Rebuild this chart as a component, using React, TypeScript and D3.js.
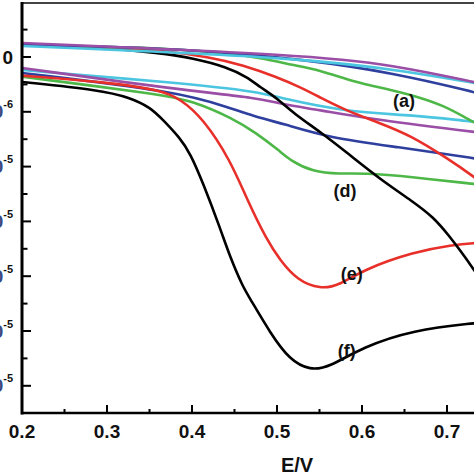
import React from "react";
import * as d3 from "d3";

// Potential E (V) vs current (units of 1e-5 A)
const blackUp: [number, number][] = [[0.2,0.11],[0.292,0.09],[0.362,0.036],[0.401,-0.009],[0.441,-0.091],[0.465,-0.183],[0.48,-0.274],[0.5,-0.374],[0.519,-0.511],[0.551,-0.684],[0.585,-0.89],[0.621,-1.113],[0.66,-1.32],[0.684,-1.46],[0.7035,-1.642],[0.715,-1.76],[0.732,-1.943],[0.75,-2.15]];
const redUp: [number, number][] = [[0.2,0.11],[0.3,0.09],[0.362,0.064],[0.421,0],[0.46,-0.073],[0.5,-0.183],[0.527,-0.274],[0.551,-0.37],[0.58,-0.484],[0.62,-0.6],[0.6565,-0.712],[0.7035,-0.94],[0.732,-1.095],[0.75,-1.2]];
const greenUp: [number, number][] = [[0.2,0.11],[0.3,0.09],[0.362,0.082],[0.441,0.036],[0.48,-0.009],[0.519,-0.073],[0.551,-0.12],[0.582,-0.21],[0.645,-0.32],[0.668,-0.37],[0.695,-0.44],[0.7235,-0.56],[0.732,-0.6],[0.75,-0.66]];
const blueUp: [number, number][] = [[0.2,0.11],[0.386,0.082],[0.539,-0.027],[0.6365,-0.146],[0.732,-0.319],[0.75,-0.36]];
const cyanUp: [number, number][] = [[0.2,0.1],[0.539,-0.009],[0.6565,-0.137],[0.732,-0.237],[0.75,-0.26]];
const purpleUp: [number, number][] = [[0.2,0.128],[0.539,0.018],[0.6365,-0.073],[0.732,-0.228],[0.75,-0.26]];

const blackLow: [number, number][] = [[0.2,-0.228],[0.292,-0.301],[0.327,-0.37],[0.351,-0.46],[0.366,-0.575],[0.386,-0.74],[0.398,-0.88],[0.413,-1.15],[0.433,-1.56],[0.445,-1.83],[0.46,-2.099],[0.468,-2.2],[0.492,-2.518],[0.515,-2.765],[0.539,-2.86],[0.562,-2.828],[0.601,-2.646],[0.66,-2.491],[0.732,-2.427],[0.75,-2.42]];
const redLow: [number, number][] = [[0.2,-0.17],[0.3,-0.23],[0.362,-0.3],[0.386,-0.38],[0.413,-0.56],[0.445,-0.94],[0.465,-1.305],[0.488,-1.67],[0.5035,-1.852],[0.5235,-2.035],[0.551,-2.12],[0.574,-2.08],[0.601,-1.943],[0.66,-1.779],[0.707,-1.715],[0.732,-1.697],[0.75,-1.69]];
const greenLow: [number, number][] = [[0.2,-0.18],[0.362,-0.34],[0.401,-0.40],[0.448,-0.56],[0.475,-0.69],[0.5035,-0.86],[0.515,-0.94],[0.542,-1.049],[0.574,-1.068],[0.601,-1.058],[0.66,-1.095],[0.732,-1.16],[0.75,-1.17]];
const blueLow: [number, number][] = [[0.2,-0.146],[0.386,-0.319],[0.441,-0.456],[0.488,-0.575],[0.5035,-0.6],[0.562,-0.739],[0.641,-0.821],[0.732,-0.922],[0.75,-0.95]];
const purpleLow: [number, number][] = [[0.2,-0.1],[0.386,-0.301],[0.48,-0.374],[0.5035,-0.43],[0.551,-0.484],[0.601,-0.557],[0.732,-0.684],[0.75,-0.7]];
const cyanLow: [number, number][] = [[0.2,-0.119],[0.386,-0.237],[0.48,-0.319],[0.5035,-0.374],[0.582,-0.502],[0.66,-0.529],[0.732,-0.593],[0.75,-0.6]];

const xMajorTicks = [0.2, 0.3, 0.4, 0.5, 0.6, 0.7];
const xMinorTicks = [0.25, 0.35, 0.45, 0.55, 0.65, 0.75];
const yMajorTicks = [0, -0.5, -1.0, -1.5, -2.0, -2.5, -3.0];
const yMinorTicks = [0.25, -0.25, -0.75, -1.25, -1.75, -2.25, -2.75];
const yTickBase = ["0", "-5.0x10", "-1.0x10", "-1.5x10", "-2.0x10", "-2.5x10", "-3.0x10"];
const yTickExp = ["", "-6", "-5", "-5", "-5", "-5", "-5"];

const curveLabels = [
  { text: "(a)", x: 0.6494, y: -0.401 },
  { text: "(d)", x: 0.58, y: -1.223 },
  { text: "(e)", x: 0.588, y: -1.98 },
  { text: "(f)", x: 0.582, y: -2.682 },
];

const series = [
  { data: cyanLow, color: "#4cc5e0" },
  { data: purpleLow, color: "#9a4ea6" },
  { data: blueLow, color: "#2f3f9e" },
  { data: greenLow, color: "#4db748" },
  { data: redLow, color: "#e8302a" },
  { data: blackLow, color: "#000000" },
  { data: blackUp, color: "#000000" },
  { data: redUp, color: "#e8302a" },
  { data: greenUp, color: "#4db748" },
  { data: blueUp, color: "#2f3f9e" },
  { data: cyanUp, color: "#4cc5e0" },
  { data: purpleUp, color: "#9a4ea6" },
];

const FONT = "'Liberation Sans', Arial, sans-serif";

export default function App() {
  const W = 474, H = 474;
  const left = 22, top = 3, bottom = 413;
  const x = d3.scaleLinear().domain([0.2, 0.75]).range([left, left + 0.55 * 850]);
  const y = d3.scaleLinear().domain([0, -3]).range([57, 57 + 3 * 109.6]);
  const line = d3
    .line<[number, number]>()
    .x((d) => x(d[0]))
    .y((d) => y(d[1]))
    .curve(d3.curveBasis);

  return (
    <svg
      width={W}
      height={H}
      style={{ position: "absolute", left: 0, top: 0, background: "#fff" }}
      fontFamily={FONT}
    >
      <rect x={0} y={0} width={W} height={H} fill="#fff" />
      <defs>
        <clipPath id="plot">
          <rect x={left} y={top} width={W} height={bottom - top} />
        </clipPath>
      </defs>
      <g clipPath="url(#plot)">
        {series.map((s, i) => (
          <path key={i} d={line(s.data) || ""} fill="none" stroke={s.color} strokeWidth={2.6} strokeLinejoin="round" />
        ))}
      </g>
      {/* frame */}
      <line x1={left} x2={W} y1={top} y2={top} stroke="#444" strokeWidth={1.8} />
      <line x1={left} x2={left} y1={top - 1} y2={bottom + 1.5} stroke="#000" strokeWidth={3} />
      <line x1={left - 1} x2={W} y1={bottom} y2={bottom} stroke="#000" strokeWidth={2.6} />
      {/* y ticks */}
      {yMajorTicks.map((t) => (
        <line key={"ym" + t} x1={left} x2={left + 9} y1={y(t)} y2={y(t)} stroke="#000" strokeWidth={2} />
      ))}
      {yMinorTicks.map((t) => (
        <line key={"yn" + t} x1={left} x2={left + 5.5} y1={y(t)} y2={y(t)} stroke="#000" strokeWidth={2} />
      ))}
      {yMajorTicks.map((t, i) =>
        i === 0 ? (
          <text key={"yl" + t} x={13} y={y(t) + 6.5} textAnchor="end" fontSize={19} fontWeight="bold" fill="#111">
            {yTickBase[i]}
          </text>
        ) : (
          <text key={"yl" + t} x={13} y={y(t) + 6.5} textAnchor="end" fontSize={19} fontWeight="bold" fill="#3a4a80">
            {yTickBase[i]}
            <tspan fontSize={11} dy={-10} fill="#111">{yTickExp[i]}</tspan>
          </text>
        )
      )}
      {/* x ticks */}
      {xMajorTicks.map((t) => (
        <line key={"xm" + t} x1={x(t)} x2={x(t)} y1={bottom} y2={bottom - 8} stroke="#000" strokeWidth={2} />
      ))}
      {xMinorTicks.map((t) => (
        <line key={"xn" + t} x1={x(t)} x2={x(t)} y1={bottom} y2={bottom - 4} stroke="#000" strokeWidth={2} />
      ))}
      {xMajorTicks.map((t) => (
        <text key={"xl" + t} x={x(t)} y={438} textAnchor="middle" fontSize={19} fontWeight="bold" fill="#111">
          {d3.format(".1f")(t)}
        </text>
      ))}
      <text x={297} y={472} textAnchor="middle" fontSize={20} fontWeight="bold" fill="#111">
        E/V
      </text>
      {curveLabels.map((l) => (
        <text key={l.text} x={x(l.x)} y={y(l.y) + 6} textAnchor="middle" fontSize={18} fontWeight="bold" fill="#111">
          {l.text}
        </text>
      ))}
    </svg>
  );
}
